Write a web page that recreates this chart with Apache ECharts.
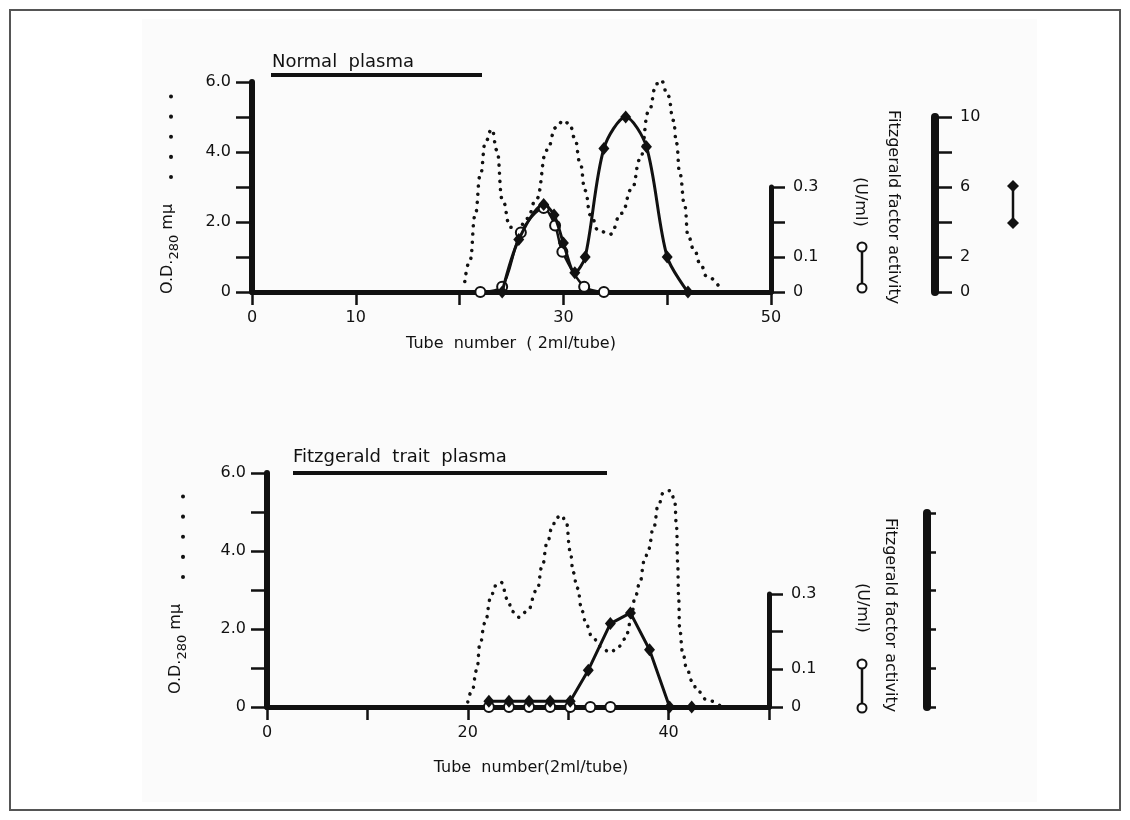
<!DOCTYPE html>
<html>
<head>
<meta charset="utf-8">
<script src="https://cdn.jsdelivr.net/npm/echarts@6/dist/echarts.min.js"></script>
<style>
  html, body { margin: 0; padding: 0; background: #fff; }
  #chart { width: 1130px; height: 820px; }
</style>
</head>
<body>
<div id="chart"></div>
<script>
// tick labels
var topXLabels = [0, 10, 30, 50];
var bottomXLabels = [0, 20, 40];
var odLabels = { 0: "0", 2: "2.0", 4: "4.0", 6: "6.0" };
var faLabels = { 0: "0", 1: "0.1", 3: "0.3" };
var fxLabels = [0, 2, 6, 10];

// Normal plasma: [tube, value]
var normalOD = [[20.5, 0.3], [21, 0.9], [21.5, 2.2], [22, 3.35], [22.5, 4.3], [23.1, 4.65], [23.6, 4.05], [24.1, 2.65], [24.9, 1.85], [25.6, 1.75], [26.5, 2.1], [27.4, 2.65], [28.4, 4.05], [29.3, 4.7], [30, 4.9], [30.6, 4.8], [31.1, 4.4], [31.6, 3.7], [32.1, 2.9], [32.6, 2.2], [33.4, 1.75], [34.5, 1.65], [35.6, 2.25], [36.6, 2.95], [37.4, 3.8], [38.2, 5.15], [39, 5.95], [39.4, 6.05], [40.1, 5.6], [40.6, 4.9], [40.9, 4.25], [41.2, 3.4], [41.7, 2.45], [42, 1.6], [42.6, 1.2], [43.2, 0.8], [43.8, 0.45], [45, 0.15]];
var normalFA = [[22, 0], [24.1, 0.015], [25.9, 0.17], [28.1, 0.24], [29.2, 0.19], [29.9, 0.115], [32, 0.015], [33.9, 0]];
var normalFX = [[24.1, 0], [25.7, 3.0], [28.1, 5.0], [29.1, 4.4], [30, 2.8], [31.1, 1.1], [32.1, 2.0], [33.9, 8.2], [36, 10.0], [38, 8.3], [40, 2.0], [42, 0]];

// Fitzgerald trait plasma
var traitOD = [[20, 0.13], [20.4, 0.4], [20.9, 0.95], [21.2, 1.6], [21.7, 2.15], [22.3, 2.8], [22.7, 3.1], [23.3, 3.2], [24, 2.75], [24.4, 2.45], [25.1, 2.3], [25.9, 2.45], [26.9, 3.0], [27.4, 3.6], [27.9, 4.2], [28.4, 4.6], [28.8, 4.85], [29.3, 4.92], [29.8, 4.75], [30.2, 4.0], [30.5, 3.45], [30.9, 3.05], [31.4, 2.45], [31.8, 2.1], [32.4, 1.8], [33.2, 1.55], [34.2, 1.4], [35, 1.55], [35.7, 1.75], [36.2, 2.15], [36.7, 2.85], [37.1, 3.15], [37.6, 3.75], [38, 4.05], [38.5, 4.6], [39, 5.2], [39.5, 5.5], [40.2, 5.55], [40.6, 5.3], [40.8, 4.6], [40.9, 3.7], [41, 2.8], [41.1, 2.0], [41.4, 1.4], [41.8, 1.0], [42.3, 0.68], [42.9, 0.4], [43.9, 0.17], [45.1, 0.04]];
var traitFA = [[22.1, 0], [24.1, 0], [26.1, 0], [28.2, 0], [30.2, 0], [32.2, 0], [34.2, 0]];
var traitFX = [[22.1, 0.3], [24.1, 0.3], [26.1, 0.3], [28.2, 0.3], [30.2, 0.3], [32, 1.9], [34.2, 4.3], [36.2, 4.85], [38.1, 2.95], [40.1, 0], [42.3, 0]];

var ink = "#111";
var font = "DejaVu Sans";

var myChart = echarts.init(document.getElementById("chart"));

function xAxisMain(grid, labels) {
  return {
    gridIndex: grid, type: "value", min: 0, max: 50, interval: 10,
    axisLine: { onZero: false, lineStyle: { color: ink, width: 5 } },
    axisTick: { length: 13, lineStyle: { color: ink, width: 2.5 } },
    axisLabel: {
      margin: 18, fontSize: 16, fontFamily: font, color: ink,
      formatter: function (v) { return labels.indexOf(v) >= 0 ? String(v) : ""; }
    },
    splitLine: { show: false }
  };
}
function xHidden(grid) {
  return { gridIndex: grid, type: "value", min: 0, max: 50, show: false };
}
function odAxis(grid) {
  return {
    gridIndex: grid, type: "value", position: "left", min: 0, max: 6, interval: 1,
    axisLine: { show: true, onZero: false, lineStyle: { color: ink, width: 6 } },
    axisTick: { show: true, length: 16, lineStyle: { color: ink, width: 2.5 } },
    axisLabel: {
      margin: 21, fontSize: 16, fontFamily: font, color: ink,
      formatter: function (v) { return odLabels[Math.round(v)] || ""; }
    },
    splitLine: { show: false }
  };
}
function hiddenY(grid, max) {
  return { gridIndex: grid, type: "value", min: 0, max: max, show: false, splitLine: { show: false } };
}
function faAxis(grid) {
  return {
    gridIndex: grid, type: "value", position: "right", min: 0, max: 0.3, interval: 0.1,
    axisLine: { show: true, onZero: false, lineStyle: { color: ink, width: 5 } },
    axisTick: { show: true, length: 14, lineStyle: { color: ink, width: 2.5 } },
    axisLabel: {
      margin: 22, fontSize: 16, fontFamily: font, color: ink,
      formatter: function (v) { return faLabels[Math.round(v * 10)] || ""; }
    },
    splitLine: { show: false }
  };
}
function fxAxis(grid, showLabels, tickLen) {
  return {
    gridIndex: grid, type: "value", position: "left", min: 0, max: 10, interval: 2,
    axisLine: { show: true, onZero: false, lineStyle: { color: ink, width: 8 } },
    axisTick: { show: true, inside: true, length: tickLen, lineStyle: { color: ink, width: 2.5 } },
    axisLabel: {
      show: showLabels, inside: true, margin: 25, fontSize: 16, fontFamily: font, color: ink,
      formatter: function (v) { return fxLabels.indexOf(Math.round(v)) >= 0 ? String(Math.round(v)) : ""; }
    },
    splitLine: { show: false }
  };
}

function odSeries(x, y, data) {
  return {
    type: "line", xAxisIndex: x, yAxisIndex: y, data: data, symbol: "none",
    smooth: 0.5, smoothMonotone: "x",
    lineStyle: { color: ink, width: 3.5, type: [0.1, 8], cap: "round" }
  };
}
function faSeries(x, y, data, smooth) {
  return {
    type: "line", xAxisIndex: x, yAxisIndex: y, data: data, smooth: smooth,
    symbol: "circle", symbolSize: 10,
    itemStyle: { color: "#fff", borderColor: ink, borderWidth: 2 },
    lineStyle: { color: ink, width: 2.5 }, z: 3
  };
}
function fxSeries(x, y, data, smooth) {
  return {
    type: "line", xAxisIndex: x, yAxisIndex: y, data: data, smooth: smooth,
    symbol: "diamond", symbolSize: [11, 13],
    itemStyle: { color: ink },
    lineStyle: { color: ink, width: 3 }, z: 4
  };
}

function vText(txt, x, y, rot, size) {
  return {
    type: "text", x: x, y: y, rotation: rot,
    style: { text: txt, fontSize: size, fontFamily: font, fill: ink, textAlign: "left", textVerticalAlign: "middle" }
  };
}
function odLabel(x, y, dotX, dotTop, dotBottom) {
  return [
    {
      type: "text", x: x, y: y, rotation: Math.PI / 2,
      style: {
        text: "{a|O.D.}{s|280}{a| mμ}", fill: ink, textAlign: "left", textVerticalAlign: "middle",
        rich: {
          a: { fontSize: 16, fontFamily: font, fill: ink, lineHeight: 26 },
          s: { fontSize: 13, fontFamily: font, fill: ink, lineHeight: 26, verticalAlign: "bottom" }
        }
      }
    },
    {
      type: "line", shape: { x1: dotX, y1: dotBottom, x2: dotX, y2: dotTop - 1 },
      style: { stroke: ink, lineWidth: 4, lineDash: [0.1, 20], lineCap: "round" }
    }
  ];
}
function circleKey(x, y1, y2) {
  return [
    { type: "line", shape: { x1: x, y1: y1, x2: x, y2: y2 }, style: { stroke: ink, lineWidth: 2.5 } },
    { type: "circle", shape: { cx: x, cy: y1, r: 4.5 }, style: { fill: "#fff", stroke: ink, lineWidth: 2 } },
    { type: "circle", shape: { cx: x, cy: y2, r: 4.5 }, style: { fill: "#fff", stroke: ink, lineWidth: 2 } }
  ];
}
function diamondKey(x, y1, y2) {
  function dia(cy) {
    return { type: "polygon", shape: { points: [[x, cy - 6], [x + 6, cy], [x, cy + 6], [x - 6, cy]] }, style: { fill: ink } };
  }
  return [
    { type: "line", shape: { x1: x, y1: y1, x2: x, y2: y2 }, style: { stroke: ink, lineWidth: 2.5 } },
    dia(y1), dia(y2)
  ];
}

var graphics = [
  { type: "rect", z: -10, shape: { x: 142, y: 19, width: 895, height: 783 }, style: { fill: "#fbfbfb" } },
  { type: "rect", z: -5, shape: { x: 10, y: 10, width: 1110, height: 800 }, style: { fill: "none", stroke: "#555", lineWidth: 2 } },
  // titles with underline
  { type: "text", x: 272, y: 62, style: { text: "Normal  plasma", fontSize: 18, fontFamily: font, fill: ink, textVerticalAlign: "middle" } },
  { type: "rect", shape: { x: 271, y: 73, width: 211, height: 4 }, style: { fill: ink } },
  { type: "text", x: 293, y: 457, style: { text: "Fitzgerald  trait  plasma", fontSize: 18, fontFamily: font, fill: ink, textVerticalAlign: "middle" } },
  { type: "rect", shape: { x: 293, y: 471, width: 314, height: 4 }, style: { fill: ink } },
  // x axis titles
  { type: "text", x: 511, y: 344, style: { text: "Tube  number  ( 2ml/tube)", fontSize: 16, fontFamily: font, fill: ink, textAlign: "center", textVerticalAlign: "middle" } },
  { type: "text", x: 531, y: 768, style: { text: "Tube  number(2ml/tube)", fontSize: 16, fontFamily: font, fill: ink, textAlign: "center", textVerticalAlign: "middle" } },
  // right side titles
  vText("Fitzgerald factor activity", 893, 110, -Math.PI / 2, 16),
  vText("(U/ml)", 860, 177, -Math.PI / 2, 16),
  vText("Fitzgerald factor activity", 890, 518, -Math.PI / 2, 16),
  vText("(U/ml)", 862, 583, -Math.PI / 2, 16)
]
  .concat(odLabel(168, 294, 171, 97, 177))
  .concat(odLabel(176, 694, 183, 497, 577))
  .concat(circleKey(862, 247, 288))
  .concat(circleKey(862, 664, 708))
  .concat(diamondKey(1013, 186, 223));

option = {
  animation: false,
  backgroundColor: "#fff",
  grid: [
    { left: 252, top: 82, width: 519, height: 210 },
    { left: 252, top: 187, width: 519, height: 105 },
    { left: 935, top: 117, width: 10, height: 175 },
    { left: 267, top: 473, width: 502, height: 234 },
    { left: 267, top: 594, width: 502, height: 113 },
    { left: 927, top: 513, width: 10, height: 194 }
  ],
  xAxis: [
    xAxisMain(0, topXLabels), xHidden(1), xHidden(2),
    xAxisMain(3, bottomXLabels), xHidden(4), xHidden(5)
  ],
  yAxis: [
    odAxis(0), hiddenY(0, 0.6), hiddenY(0, 12), faAxis(1), fxAxis(2, true, 17),
    odAxis(3), hiddenY(3, 0.62), hiddenY(3, 12.06), faAxis(4), fxAxis(5, false, 9)
  ],
  series: [
    odSeries(0, 0, normalOD),
    faSeries(0, 1, normalFA, 0.3),
    fxSeries(0, 2, normalFX, 0.3),
    odSeries(3, 5, traitOD),
    faSeries(3, 6, traitFA, false),
    fxSeries(3, 7, traitFX, false)
  ],
  graphic: graphics
};

myChart.setOption(option);
window.addEventListener("resize", function () {
  myChart.resize();
});
</script>
</body>
</html>
